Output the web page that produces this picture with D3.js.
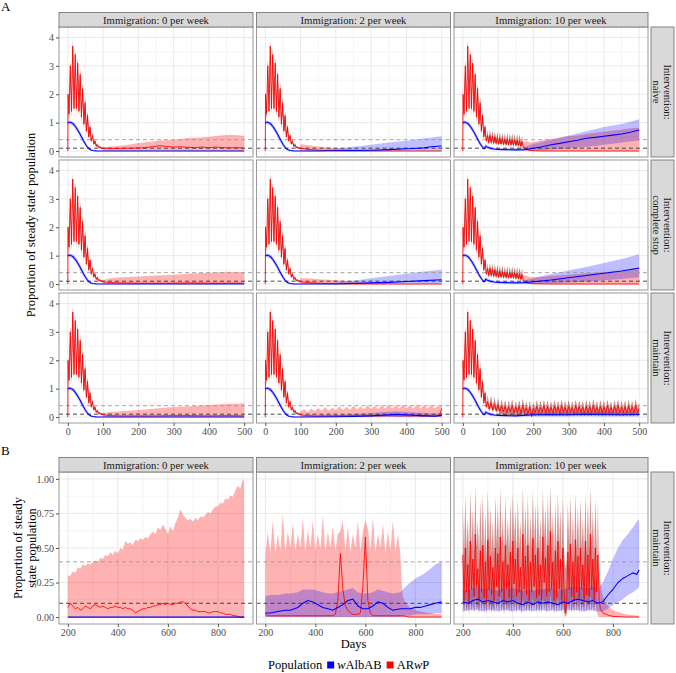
<!DOCTYPE html>
<html>
<head>
<meta charset="utf-8">
<script src="https://cdn.jsdelivr.net/npm/d3@7"></script>
<style>
  body { margin: 0; background: #fff; }
  svg text { font-family: "Liberation Serif", "Times New Roman", "DejaVu Serif", serif !important; }
  .tick text { fill: #4d4d4d; font-size: 10px; }
</style>
</head>
<body>
<svg id="chart" width="676" height="673" font-family="Liberation Serif, Times New Roman, serif"></svg>
<script>
// ---- labels / ticks ----
const IMMIGRATION = ["Immigration: 0 per week", "Immigration: 2 per week", "Immigration: 10 per week"];
const INTERVENTION = [["Intervention:", "naive"], ["Intervention:", "complete stop"], ["Intervention:", "maintain"]];
const THRESHOLDS = [{ v: 0.1, color: "#333" }, { v: 0.4, color: "#999" }];
const A_X_TICKS = [0, 100, 200, 300, 400, 500];
const A_Y_TICKS = [0, 1, 2, 3, 4];
const B_X_TICKS = [200, 400, 600, 800];
const B_Y_TICKS = [0, 0.25, 0.5, 0.75, 1];

// ---- panel A series: rows of [day, lower, median, upper] ----
const A_BLUE_EARLY = [[0,0.93,1.0,1.05],[5,0.95,1.02,1.08],[10,0.93,1.0,1.06],[15,0.88,0.96,1.03],[20,0.8,0.89,0.97],
  [25,0.7,0.8,0.88],[30,0.6,0.7,0.79],[35,0.48,0.59,0.68],[40,0.37,0.47,0.56],[45,0.26,0.35,0.44],
  [50,0.17,0.24,0.32],[55,0.1,0.15,0.22],[60,0.05,0.08,0.14]];
const A_BLUE_TAIL = [[65,0.02,0.04,0.08],[70,0.01,0.02,0.05],[80,0,0.005,0.02],[90,0,0,0.01],[100,0,0,0]];
const A_BLUE_C1 = [[150,0,0,0],[500,0,0,0]];
const A_BLUE_C2_NAIVE = [[150,0,0,0.02],[200,0,0.01,0.08],[250,0,0.02,0.15],[300,0,0.03,0.22],[350,0,0.05,0.3],
  [400,0,0.08,0.36],[420,0,0.09,0.4],[450,0,0.11,0.45],[470,0,0.15,0.47],[490,0,0.17,0.5],[500,0,0.18,0.52]];
const A_BLUE_C2_STOP = [[200,0,0,0.05],[250,0,0.02,0.12],[300,0,0.04,0.2],[350,0,0.06,0.28],[400,0,0.09,0.36],
  [450,0,0.12,0.44],[500,0,0.15,0.5]];
const A_BLUE_C2_MAINT = [[200,0,0.01,0.06],[250,0,0.02,0.1],[300,0,0.04,0.14],[340,0,0.07,0.18],[370,0,0.1,0.2],
  [400,0,0.08,0.18],[440,0,0.05,0.15],[480,0,0.03,0.12],[500,0,0.06,0.15]];
const A_BLUE_C3_TAIL = [[65,0.1,0.17,0.25],[70,0.07,0.13,0.2],[80,0.04,0.09,0.15],[90,0.03,0.07,0.12],
  [100,0.03,0.06,0.11],[120,0.02,0.05,0.1],[150,0.01,0.04,0.1]];
const A_BLUE_C3_NAIVE = [[175,0.01,0.05,0.15],[200,0.02,0.1,0.25],[225,0.03,0.15,0.33],[250,0.05,0.22,0.4],
  [275,0.07,0.27,0.48],[300,0.1,0.33,0.55],[325,0.12,0.38,0.62],[350,0.15,0.45,0.7],[375,0.18,0.48,0.77],
  [400,0.22,0.52,0.85],[425,0.26,0.56,0.9],[450,0.3,0.6,0.95],[475,0.34,0.66,1.03],[500,0.38,0.74,1.12]];
const A_BLUE_C3_STOP = [[175,0.01,0.05,0.13],[200,0.01,0.08,0.2],[250,0.02,0.14,0.35],[300,0.05,0.22,0.48],
  [350,0.08,0.3,0.6],[400,0.13,0.38,0.74],[450,0.18,0.46,0.88],[500,0.24,0.56,1.05]];
const A_BLUE_C3_MAINT = [[200,0.02,0.08,0.15],[250,0.02,0.09,0.16],[300,0.02,0.08,0.16],[350,0.03,0.1,0.17],
  [400,0.02,0.09,0.18],[450,0.02,0.08,0.16],[500,0.02,0.09,0.16]];

const A_RED_EARLY = [[0,0,0,0],[0.6,1.8,2.0,2.1],[3.5,1.1,1.3,1.5],[7,2.7,3.0,3.2],[10.5,1.2,1.4,1.7],[14,3.3,3.7,3.9],
  [17.5,1.3,1.5,1.8],[21,3.1,3.4,3.6],[24.5,1.3,1.5,1.8],[28,2.8,3.1,3.3],[31.5,1.2,1.4,1.7],[35,2.4,2.7,2.9],
  [38.5,1.0,1.2,1.4],[42,1.9,2.2,2.4],[45.5,0.8,0.95,1.1],[49,1.45,1.7,1.9],[52.5,0.6,0.7,0.85],[56,1.05,1.25,1.4],
  [59.5,0.42,0.5,0.6],[63,0.7,0.85,0.95],[66.5,0.28,0.35,0.42]];
const A_RED_TAIL = [[70,0.45,0.55,0.65],[73.5,0.2,0.25,0.32],[77,0.28,0.35,0.42],[80.5,0.13,0.17,0.22],
  [84,0.17,0.22,0.28],[87.5,0.1,0.12,0.16],[91,0.1,0.14,0.18],[94.5,0.08,0.1,0.13],[98,0.06,0.1,0.12]];
const A_RED_C1_NAIVE = [[100,0,0.1,0.13],[120,0,0.09,0.16],[140,0,0.09,0.18],[160,0,0.1,0.2],[180,0,0.1,0.24],
  [200,0,0.11,0.28],[220,0,0.12,0.31],[240,0,0.15,0.34],[260,0,0.19,0.37],[280,0,0.16,0.38],[300,0,0.14,0.4],
  [320,0,0.15,0.42],[340,0,0.13,0.46],[360,0,0.12,0.47],[380,0,0.14,0.48],[400,0,0.12,0.5],[420,0,0.14,0.53],
  [440,0,0.12,0.56],[460,0,0.11,0.57],[480,0,0.12,0.56],[500,0,0.1,0.54]];
const A_RED_C1_STOP = [[100,0,0.08,0.14],[120,0,0.05,0.2],[150,0,0.04,0.24],[200,0,0.03,0.27],[250,0,0.03,0.3],
  [300,0,0.03,0.33],[350,0,0.04,0.37],[400,0,0.03,0.4],[450,0,0.03,0.43],[500,0,0.03,0.42]];
const A_RED_C1_MAINT = [[100,0,0.08,0.14],[120,0,0.05,0.18],[150,0,0.04,0.2],[200,0,0.04,0.25],[250,0,0.04,0.3],
  [300,0,0.05,0.35],[350,0,0.05,0.38],[400,0,0.04,0.42],[450,0,0.05,0.46],[500,0,0.04,0.48]];
const A_RED_C2_NAIVE = [[100,0,0.1,0.25],[110,0,0.08,0.22],[125,0,0.05,0.2],[150,0,0.03,0.16],[175,0,0.02,0.13],
  [200,0,0.01,0.11],[250,0,0,0.06],[300,0,0,0.03],[350,0,0,0.01],[400,0,0,0],[500,0,0,0]];
const A_RED_C2_STOP = [[100,0,0.08,0.2],[125,0,0.05,0.2],[150,0,0.03,0.17],[200,0,0.01,0.14],[250,0,0,0.09],
  [300,0,0,0.04],[350,0,0,0.01],[400,0,0,0],[500,0,0,0]];
const A_RED_C2_MAINT = [[100,0,0.08,0.2],[110,0,0.06,0.28],[120,0,0.05,0.18],[130,0,0.05,0.3],[140,0,0.04,0.2],
  [150,0,0.04,0.32],[160,0,0.05,0.22],[170,0,0.04,0.35],[180,0,0.05,0.22],[190,0,0.04,0.34],[200,0,0.05,0.24],
  [210,0,0.04,0.38],[220,0,0.05,0.25],[230,0,0.04,0.36],[240,0,0.05,0.26],[250,0,0.05,0.4],[260,0,0.05,0.27],
  [270,0,0.04,0.38],[280,0,0.05,0.28],[290,0,0.05,0.42],[300,0,0.05,0.28],[310,0,0.05,0.4],[320,0,0.04,0.28],
  [330,0,0.05,0.42],[340,0,0.05,0.3],[350,0,0.06,0.44],[360,0,0.05,0.3],[370,0,0.05,0.42],[380,0,0.04,0.3],
  [390,0,0.05,0.44],[400,0,0.05,0.3],[410,0,0.04,0.42],[420,0,0.05,0.3],[430,0,0.05,0.45],[440,0,0.04,0.3],
  [450,0,0.04,0.43],[460,0,0.05,0.3],[470,0,0.04,0.44],[480,0,0.04,0.3],[490,0,0.05,0.42],[495,0,0.08,0.35],
  [500,0,0.3,0.45]];
const A_RED_C3_OSC = [[70,0.4,0.55,0.75],[73.5,0.22,0.3,0.4],[77,0.4,0.55,0.75],[80.5,0.22,0.3,0.4],
  [84,0.38,0.52,0.72],[87.5,0.2,0.28,0.38],[91,0.36,0.5,0.7],[94.5,0.2,0.27,0.36],[98,0.34,0.48,0.68],
  [101.5,0.18,0.25,0.34],[105,0.32,0.45,0.66],[108.5,0.18,0.25,0.33],[112,0.32,0.44,0.65],[115.5,0.17,0.24,0.32],
  [119,0.3,0.42,0.62],[122.5,0.17,0.23,0.31],[126,0.3,0.42,0.64],[129.5,0.16,0.22,0.3],[133,0.3,0.41,0.62],
  [136.5,0.16,0.22,0.3],[140,0.28,0.4,0.63],[143.5,0.16,0.21,0.3],[147,0.28,0.4,0.6],[150.5,0.15,0.2,0.29],
  [154,0.26,0.38,0.6],[157.5,0.14,0.19,0.28],[161,0.24,0.36,0.58],[164.5,0.12,0.17,0.27],[168,0.2,0.33,0.55]];
const A_RED_C3_NAIVE = [[172,0.06,0.12,0.3],[180,0.02,0.06,0.35],[190,0,0.02,0.3],[200,0,0.01,0.32],[225,0,0,0.38],
  [250,0,0,0.42],[275,0,0,0.46],[300,0,0,0.52],[325,0,0,0.55],[350,0,0,0.6],[375,0,0,0.64],[400,0,0,0.68],
  [425,0,0,0.72],[450,0,0,0.75],[475,0,0,0.8],[500,0,0,0.82]];
const A_RED_C3_STOP = [[172,0.04,0.1,0.3],[180,0.01,0.05,0.3],[190,0,0.02,0.25],[200,0,0.01,0.24],[250,0,0,0.28],
  [300,0,0,0.33],[350,0,0,0.38],[400,0,0,0.42],[450,0,0,0.46],[500,0,0,0.5]];
// maintain, 10 per week: sampled every 5 days from day 70
const A_C3M_MID = [0.55,0.28,0.5,0.25,0.45,0.22,0.42,
  0.2,0.4,0.18,0.38,0.15,0.36,0.17,0.4,0.14,0.35, 0.16,0.38,0.12,0.42,0.15,0.33,0.13,0.36,0.02,0.3,
  0.15,0.38,0.13,0.35,0.16,0.4,0.12,0.37,0.15,0.34, 0.13,0.39,0.16,0.36,0.12,0.41,0.15,0.35,0.13,0.38,
  0.16,0.34,0.12,0.4,0.14,0.37,0.15,0.35,0.12,0.39, 0.15,0.36,0.13,0.42,0.16,0.35,0.12,0.38,0.14,0.36,
  0.13,0.4,0.15,0.34,0.12,0.38,0.16,0.41,0.13,0.35, 0.15,0.37,0.12,0.4,0.14,0.36,0.13,0.42,0.15,0.3];
const A_C3M_HI = [0.8,0.4,0.75,0.38,0.7,0.35,0.66,
  0.32,0.62,0.3,0.6,0.28,0.58,0.3,0.63,0.27,0.56, 0.3,0.6,0.26,0.65,0.28,0.55,0.26,0.58,0.2,0.52,
  0.3,0.6,0.27,0.57,0.3,0.62,0.26,0.59,0.29,0.56, 0.27,0.61,0.3,0.58,0.26,0.63,0.29,0.57,0.27,0.6,
  0.3,0.56,0.26,0.62,0.28,0.59,0.29,0.57,0.26,0.61, 0.29,0.58,0.27,0.64,0.3,0.57,0.26,0.6,0.28,0.58,
  0.27,0.62,0.29,0.56,0.26,0.6,0.3,0.63,0.27,0.57, 0.29,0.59,0.26,0.62,0.28,0.58,0.27,0.64,0.29,0.5];
const A_C3M_LO = [0.38,0.2,0.34,0.18,0.3,0.15,0.26,
  0.05,0.12,0.04,0.11,0.03,0.1,0.04,0.12,0.03,0.1, 0.04,0.11,0.03,0.13,0.03,0.09,0.03,0.1,0,0.08,
  0.03,0.11,0.03,0.1,0.04,0.12,0.03,0.11,0.03,0.1, 0.03,0.12,0.04,0.1,0.03,0.12,0.03,0.1,0.03,0.11,
  0.04,0.1,0.03,0.12,0.03,0.11,0.03,0.1,0.03,0.12, 0.03,0.1,0.03,0.13,0.04,0.1,0.03,0.11,0.03,0.1,
  0.03,0.12,0.03,0.1,0.03,0.11,0.04,0.12,0.03,0.1, 0.03,0.11,0.03,0.12,0.03,0.1,0.03,0.13,0.03,0.08];

// ---- panel B series (maintain) ----
const B1_BLUE = [[200,0,0,0],[905,0,0,0]];
const B1_RED = [[200,0,0.07,0.3],[210,0,0.1,0.3],[220,0,0.08,0.33],[230,0,0.06,0.32],[240,0,0.07,0.36],[250,0,0.05,0.35],
  [260,0,0.06,0.38],[270,0,0.08,0.37],[280,0,0.07,0.39],[290,0,0.06,0.38],[300,0,0.08,0.4],[310,0,0.09,0.41],
  [320,0,0.08,0.4],[330,0,0.07,0.43],[340,0,0.08,0.42],[350,0,0.07,0.45],[360,0,0.06,0.44],[370,0,0.07,0.47],
  [380,0,0.07,0.45],[390,0,0.08,0.48],[400,0,0.07,0.46],[410,0,0.07,0.5],[420,0,0.06,0.49],[430,0,0.07,0.55],
  [440,0,0.06,0.53],[450,0,0.06,0.54],[460,0,0.05,0.52],[470,0,0.03,0.56],[480,0,0.04,0.55],[490,0,0.05,0.57],
  [500,0,0.06,0.56],[510,0,0.06,0.58],[520,0,0.07,0.57],[530,0,0.07,0.6],[540,0,0.08,0.62],[550,0,0.08,0.6],
  [560,0,0.09,0.65],[570,0,0.09,0.63],[580,0,0.1,0.67],[590,0,0.09,0.64],[600,0,0.1,0.6],[610,0,0.09,0.66],
  [620,0,0.09,0.62],[630,0,0.1,0.68],[640,0,0.1,0.72],[650,0,0.11,0.78],[660,0,0.11,0.74],[670,0,0.1,0.72],
  [680,0,0.08,0.7],[690,0,0.06,0.71],[700,0,0.05,0.69],[710,0,0.05,0.72],[720,0,0.04,0.7],[730,0,0.04,0.73],
  [740,0,0.04,0.72],[750,0,0.04,0.74],[760,0,0.03,0.76],[770,0,0.03,0.75],[780,0,0.04,0.78],[790,0,0.04,0.8],
  [800,0,0.04,0.8],[810,0,0.03,0.83],[820,0,0.03,0.82],[830,0,0.02,0.86],[840,0,0.02,0.85],[850,0,0.02,0.88],
  [860,0,0.01,0.87],[870,0,0.01,0.92],[880,0,0.005,0.95],[890,0,0,0.93],[900,0,0,1.0],[905,0,0,0.98]];

const B2_BLUE = [[200,0,0.03,0.15],[220,0,0.03,0.16],[250,0,0.04,0.16],[280,0,0.05,0.17],[300,0,0.05,0.17],
  [330,0,0.07,0.18],[350,0,0.1,0.2],[370,0,0.12,0.2],[390,0,0.11,0.2],[410,0,0.09,0.19],[430,0,0.07,0.18],
  [450,0,0.06,0.17],[470,0,0.05,0.17],[490,0,0.07,0.18],[510,0,0.09,0.19],[530,0,0.12,0.2],[550,0,0.13,0.21],
  [570,0,0.08,0.18],[590,0,0.06,0.17],[610,0,0.06,0.17],[630,0,0.08,0.18],[650,0,0.11,0.2],[670,0,0.1,0.19],
  [690,0,0.07,0.18],[710,0,0.05,0.17],[740,0,0.06,0.18],[760,0.01,0.06,0.22],[780,0.01,0.06,0.25],
  [800,0.02,0.07,0.28],[820,0.02,0.07,0.3],[840,0.02,0.08,0.32],[860,0.02,0.09,0.35],[880,0.03,0.1,0.38],
  [905,0.03,0.11,0.4]];
// sampled every 10 days from day 200 to 740
const B2_RED_MID = [0.02,0.01,0.01,0.01,0.01,0.01,0.01,0.01,0.01,0.01,0.01,0.01,0.01,0.01,0.01,0.01,0.01,0.01,
  0.01,0.01,0.01,0.01,0.01,0.01,0.01,0.01,0.01,0.01,0.02,0.12,0.46,0.2,0.08,0.05,0.03,0.02,0.02,0.02,0.03,
  0.22,0.58,0.12,0.03,0.01,0.01,0.01,0.01,0.01,0.01,0.01,0.01,0.01,0.01,0.01,0.01];
const B2_RED_HI = [0.45,0.62,0.47,0.7,0.46,0.6,0.48,0.75,0.47,0.62,0.5,0.68,0.48,0.6,0.5,0.72,0.47,0.63,0.5,0.7,
  0.48,0.6,0.49,0.74,0.47,0.62,0.5,0.66,0.48,0.6,0.62,0.7,0.48,0.65,0.47,0.6,0.5,0.7,0.48,0.62,0.7,0.64,0.48,
  0.72,0.47,0.6,0.5,0.68,0.46,0.62,0.48,0.7,0.47,0.6,0.45];
const B2_RED_TAIL = [[745,0,0.01,0.25],[750,0,0.01,0.15],[760,0,0.005,0.1],[780,0,0,0.07],[800,0,0,0.05],
  [850,0,0,0.03],[905,0,0,0.02]];

const B3_BLUE = [[200,0.04,0.11,0.2],[220,0.05,0.1,0.19],[240,0.05,0.12,0.21],[260,0.05,0.13,0.22],[280,0.04,0.11,0.2],
  [300,0.05,0.12,0.21],[320,0.05,0.11,0.2],[340,0.04,0.1,0.19],[360,0.05,0.12,0.21],[380,0.05,0.11,0.2],
  [400,0.04,0.12,0.21],[420,0.05,0.1,0.2],[440,0.04,0.09,0.19],[460,0.05,0.11,0.2],[480,0.04,0.09,0.19],
  [500,0.05,0.11,0.2],[520,0.05,0.1,0.2],[540,0.04,0.11,0.21],[560,0.05,0.1,0.2],[580,0.04,0.09,0.19],
  [600,0.05,0.11,0.2],[620,0.05,0.1,0.21],[640,0.05,0.12,0.22],[660,0.05,0.13,0.22],[680,0.04,0.12,0.21],
  [700,0.05,0.11,0.21],[720,0.05,0.12,0.22],[740,0.04,0.1,0.21],[760,0.04,0.11,0.25],[780,0.06,0.16,0.33],
  [800,0.09,0.2,0.42],[820,0.11,0.25,0.5],[840,0.13,0.28,0.56],[860,0.16,0.3,0.6],[880,0.18,0.32,0.65],
  [895,0.2,0.31,0.69],[905,0.22,0.34,0.71]];
// sampled every 5 days from day 200 to 735
const B3_RED_MID = [0.45,0.12,0.5,0.18,0.38,0.1,0.55,0.2,0.42,0.15, 0.6,0.22,0.35,0.12,0.48,0.18,0.52,0.14,0.4,0.1,
  0.56,0.2,0.44,0.16,0.36,0.12,0.5,0.22,0.46,0.15, 0.58,0.18,0.4,0.11,0.52,0.2,0.38,0.14,0.47,0.12,
  0.55,0.24,0.42,0.15,0.5,0.18,0.36,0.1,0.6,0.2, 0.44,0.16,0.52,0.12,0.4,0.18,0.57,0.22,0.45,0.14,
  0.5,0.16,0.38,0.12,0.58,0.25,0.43,0.15,0.52,0.18, 0.62,0.2,0.4,0.12,0.48,0.14,0.55,0.2,0.42,0.12,
  0.5,0.16,0.03,0.1,0.47,0.2,0.53,0.15,0.4,0.12, 0.56,0.18,0.44,0.14,0.5,0.2,0.38,0.12,0.55,0.16,
  0.45,0.15,0.6,0.2,0.42,0.12,0.5,0.18];
const B3_RED_HI = [0.82,0.42,0.88,0.48,0.72,0.4,0.92,0.5,0.78,0.45, 0.95,0.5,0.7,0.42,0.85,0.48,0.9,0.44,0.75,0.4,
  0.92,0.5,0.8,0.46,0.7,0.42,0.88,0.52,0.82,0.45, 0.94,0.48,0.75,0.41,0.88,0.5,0.72,0.44,0.84,0.42,
  0.9,0.54,0.78,0.45,0.86,0.48,0.7,0.4,0.95,0.5, 0.8,0.46,0.88,0.42,0.75,0.48,0.92,0.52,0.82,0.44,
  0.86,0.46,0.72,0.42,0.93,0.55,0.8,0.45,0.88,0.48, 0.96,0.5,0.75,0.42,0.84,0.44,0.9,0.5,0.78,0.42,
  0.86,0.46,0.35,0.4,0.83,0.5,0.88,0.45,0.75,0.42, 0.9,0.48,0.8,0.44,0.86,0.5,0.72,0.42,0.9,0.46,
  0.82,0.45,0.94,0.5,0.78,0.42,0.86,0.48];
const B3_RED_LO = [0.12,0.03,0.13,0.04,0.1,0.02,0.14,0.04,0.11,0.03, 0.15,0.05,0.09,0.03,0.12,0.04,0.13,0.03,0.1,0.02,
  0.14,0.04,0.11,0.03,0.09,0.03,0.13,0.05,0.12,0.03, 0.15,0.04,0.1,0.02,0.13,0.04,0.1,0.03,0.12,0.03,
  0.14,0.05,0.11,0.03,0.13,0.04,0.09,0.02,0.15,0.04, 0.11,0.03,0.13,0.03,0.1,0.04,0.14,0.05,0.12,0.03,
  0.13,0.03,0.1,0.03,0.15,0.05,0.11,0.03,0.13,0.04, 0.16,0.04,0.1,0.02,0.12,0.03,0.14,0.04,0.11,0.03,
  0.13,0.03,0,0.02,0.12,0.04,0.13,0.03,0.1,0.03, 0.14,0.04,0.11,0.03,0.13,0.04,0.1,0.03,0.14,0.03,
  0.12,0.03,0.15,0.04,0.11,0.03,0.13,0.04];
const B3_RED_TAIL = [[740,0.01,0.45,0.85],[745,0,0.12,0.4],[750,0,0.06,0.25],[760,0,0.03,0.15],[780,0,0.015,0.08],
  [800,0,0.005,0.05],[850,0,0,0.02],[905,0,0,0.01]];

// pair value arrays sampled on a regular day grid with their days
function onGrid(start, step, lo, mid, hi) {
  return mid.map((m, i) => [start + i * step, Array.isArray(lo) ? lo[i] : lo, m, hi[i]]);
}

// ---- layout ----
const svg = d3.select("#chart");
const colX = [59, 256.5, 454], panelW = 194;
const rowYA = [27, 160, 293], panelHA = 130;
const topB = 472, panelHB = 152;
const stripX0 = 651, stripW = 23;

const xA = d3.scaleLinear().domain([-25, 525]).range([0, panelW]);
const yA = d3.scaleLinear().domain([-0.21, 4.37]).range([panelHA, 0]);
const xB = d3.scaleLinear().domain([164.75, 940.25]).range([0, panelW]);
const yB = d3.scaleLinear().domain([-0.05, 1.05]).range([panelHB, 0]);

const mids = t => d3.pairs(t).map(([a, b]) => (a + b) / 2);
const gridA = { xMaj: A_X_TICKS, xMin: mids(A_X_TICKS), yMaj: A_Y_TICKS, yMin: mids(A_Y_TICKS) };
const gridB = { xMaj: B_X_TICKS, xMin: mids(B_X_TICKS).concat([900]), yMaj: B_Y_TICKS, yMin: mids(B_Y_TICKS) };

let clipN = 0;
function drawPanel(px, py, x, y, grid, blueChunks, redChunks) {
  const w = x.range()[1], h = y.range()[0];
  const g = svg.append("g").attr("transform", `translate(${px},${py})`);
  const id = "clip" + (clipN++);
  g.append("clipPath").attr("id", id).append("rect").attr("width", w).attr("height", h);

  grid.xMin.forEach(v => g.append("line").attr("x1", x(v)).attr("x2", x(v)).attr("y1", 0).attr("y2", h)
    .attr("stroke", "#ebebeb").attr("stroke-width", 0.5));
  grid.yMin.forEach(v => g.append("line").attr("y1", y(v)).attr("y2", y(v)).attr("x1", 0).attr("x2", w)
    .attr("stroke", "#ebebeb").attr("stroke-width", 0.5));
  grid.xMaj.forEach(v => g.append("line").attr("x1", x(v)).attr("x2", x(v)).attr("y1", 0).attr("y2", h)
    .attr("stroke", "#e6e6e6").attr("stroke-width", 0.9));
  grid.yMaj.forEach(v => g.append("line").attr("y1", y(v)).attr("y2", y(v)).attr("x1", 0).attr("x2", w)
    .attr("stroke", "#e6e6e6").attr("stroke-width", 0.9));

  const body = g.append("g").attr("clip-path", `url(#${id})`);
  const blue = blueChunks.flat();
  const red = redChunks.flatMap(c => c.rows);
  const area = d3.area().x(d => x(d[0])).y0(d => y(d[1])).y1(d => y(d[3]));
  const line = d3.line().x(d => x(d[0])).y(d => y(d[2]));

  body.append("path").attr("d", area(red)).attr("fill", "#ff0000").attr("fill-opacity", 0.3);
  body.append("path").attr("d", area(blue)).attr("fill", "#0000ff").attr("fill-opacity", 0.25);
  redChunks.filter(c => c.dark).forEach(c =>
    body.append("path").attr("d", area(c.rows)).attr("fill", "#2a0303").attr("fill-opacity", c.dark));

  THRESHOLDS.forEach(t => body.append("line").attr("x1", 0).attr("x2", w).attr("y1", y(t.v)).attr("y2", y(t.v))
    .attr("stroke", t.color).attr("stroke-width", 0.9).attr("stroke-dasharray", "4,3"));

  body.append("path").attr("d", line(red)).attr("fill", "none").attr("stroke", "#ff0000").attr("stroke-width", 0.85);
  body.append("path").attr("d", line(blue)).attr("fill", "none").attr("stroke", "#0000ff").attr("stroke-width", 1.1);

  g.append("rect").attr("width", w).attr("height", h).attr("fill", "none").attr("stroke", "#999").attr("stroke-width", 1);
  return g;
}

function styleAxis(sel) {
  sel.attr("font-family", null).attr("font-size", null);
  sel.select(".domain").remove();
  sel.selectAll(".tick line").attr("stroke", "#555");
}

function topStrip(px, y0, label) {
  svg.append("rect").attr("x", px).attr("y", y0).attr("width", panelW).attr("height", 14.5)
    .attr("fill", "#d9d9d9").attr("stroke", "#7a7a7a").attr("stroke-width", 0.9);
  svg.append("text").attr("x", px + panelW / 2).attr("y", y0 + 7.5).attr("text-anchor", "middle")
    .attr("dominant-baseline", "central").attr("font-size", 10.7).attr("fill", "#1a1a1a").text(label);
}

function sideStrip(y0, h, lines) {
  svg.append("rect").attr("x", stripX0).attr("y", y0).attr("width", stripW).attr("height", h)
    .attr("fill", "#d9d9d9").attr("stroke", "#7a7a7a").attr("stroke-width", 0.9);
  const t = svg.append("g").attr("transform", `translate(${stripX0 + stripW / 2},${y0 + h / 2}) rotate(90)`);
  lines.forEach((s, i) => t.append("text").attr("x", 0).attr("y", (i - (lines.length - 1) / 2) * 11)
    .attr("text-anchor", "middle").attr("dominant-baseline", "central").attr("font-size", 10.7)
    .attr("fill", "#1a1a1a").text(s));
}

// ---- panel A ----
const red3Osc = { rows: A_RED_C3_OSC, dark: 0.35 };
const earlyRed = { rows: A_RED_EARLY, dark: 0.5 };
const A_PANELS = [
  [[A_BLUE_EARLY, A_BLUE_TAIL, A_BLUE_C1], [earlyRed, { rows: A_RED_TAIL, dark: 0.3 }, { rows: A_RED_C1_NAIVE }]],
  [[A_BLUE_EARLY, A_BLUE_TAIL, A_BLUE_C2_NAIVE], [earlyRed, { rows: A_RED_TAIL, dark: 0.3 }, { rows: A_RED_C2_NAIVE }]],
  [[A_BLUE_EARLY, A_BLUE_C3_TAIL, A_BLUE_C3_NAIVE], [earlyRed, red3Osc, { rows: A_RED_C3_NAIVE }]],
  [[A_BLUE_EARLY, A_BLUE_TAIL, A_BLUE_C1], [earlyRed, { rows: A_RED_TAIL, dark: 0.3 }, { rows: A_RED_C1_STOP }]],
  [[A_BLUE_EARLY, A_BLUE_TAIL, A_BLUE_C2_STOP], [earlyRed, { rows: A_RED_TAIL, dark: 0.3 }, { rows: A_RED_C2_STOP }]],
  [[A_BLUE_EARLY, A_BLUE_C3_TAIL, A_BLUE_C3_STOP], [earlyRed, red3Osc, { rows: A_RED_C3_STOP }]],
  [[A_BLUE_EARLY, A_BLUE_TAIL, A_BLUE_C1], [earlyRed, { rows: A_RED_TAIL, dark: 0.3 }, { rows: A_RED_C1_MAINT }]],
  [[A_BLUE_EARLY, A_BLUE_TAIL, A_BLUE_C2_MAINT], [earlyRed, { rows: A_RED_TAIL, dark: 0.3 }, { rows: A_RED_C2_MAINT }]],
  [[A_BLUE_EARLY, A_BLUE_C3_TAIL, A_BLUE_C3_MAINT], [earlyRed, { rows: onGrid(70, 5, A_C3M_LO, A_C3M_MID, A_C3M_HI), dark: 0.25 }]]
];

A_PANELS.forEach(([blue, red], i) => {
  const r = Math.floor(i / 3), c = i % 3;
  const g = drawPanel(colX[c], rowYA[r], xA, yA, gridA, blue, red);
  if (c === 0) g.append("g").call(d3.axisLeft(yA).tickValues(A_Y_TICKS).tickFormat(d3.format("d"))
    .tickSize(3).tickPadding(2)).call(styleAxis);
  if (r === 2) g.append("g").attr("transform", `translate(0,${panelHA})`)
    .call(d3.axisBottom(xA).tickValues(A_X_TICKS).tickFormat(d3.format("d")).tickSize(3).tickPadding(1.5)).call(styleAxis);
});
IMMIGRATION.forEach((s, c) => topStrip(colX[c], 12.5, s));
INTERVENTION.forEach((l, r) => sideStrip(rowYA[r], panelHA, l));

// ---- panel B ----
const B_PANELS = [
  [[B1_BLUE], [{ rows: B1_RED }]],
  [[B2_BLUE], [{ rows: onGrid(200, 10, 0, B2_RED_MID, B2_RED_HI) }, { rows: B2_RED_TAIL }]],
  [[B3_BLUE], [{ rows: onGrid(200, 5, B3_RED_LO, B3_RED_MID, B3_RED_HI), dark: 0.2 }, { rows: B3_RED_TAIL }]]
];
B_PANELS.forEach(([blue, red], c) => {
  const g = drawPanel(colX[c], topB, xB, yB, gridB, blue, red);
  if (c === 0) g.append("g").call(d3.axisLeft(yB).tickValues(B_Y_TICKS).tickFormat(d3.format(".2f"))
    .tickSize(3).tickPadding(2)).call(styleAxis);
  g.append("g").attr("transform", `translate(0,${panelHB})`)
    .call(d3.axisBottom(xB).tickValues(B_X_TICKS).tickFormat(d3.format("d")).tickSize(3).tickPadding(1.5)).call(styleAxis);
});
IMMIGRATION.forEach((s, c) => topStrip(colX[c], 457.5, s));
sideStrip(topB, panelHB, INTERVENTION[2]);

// ---- titles ----
svg.append("text").attr("x", 1).attr("y", 11).attr("font-size", 13).text("A");
svg.append("text").attr("x", 1).attr("y", 455).attr("font-size", 13).text("B");
svg.append("text").attr("transform", "translate(31,225) rotate(-90)").attr("text-anchor", "middle")
  .attr("dominant-baseline", "central").attr("font-size", 12.5).text("Proportion of steady state population");
["Proportion of steady", "state population"].forEach((s, i) =>
  svg.append("text").attr("transform", `translate(${18 + i * 14},548) rotate(-90)`).attr("text-anchor", "middle")
    .attr("dominant-baseline", "central").attr("font-size", 12.5).text(s));
svg.append("text").attr("x", colX[1] + panelW / 2).attr("y", 644).attr("text-anchor", "middle")
  .attr("dominant-baseline", "central").attr("font-size", 12.5).text("Days");

// ---- legend ----
const leg = svg.append("g").attr("transform", "translate(268,665)").attr("font-size", 12.5);
let lx = 0;
const t0 = leg.append("text").attr("x", lx).attr("dominant-baseline", "central").text("Population");
lx += t0.node().getComputedTextLength() + 5;
[{ color: "#0000ff", parts: [["w", true], ["AlbAB", false]] }, { color: "#ff0000", parts: [["AR", false], ["w", true], ["P", false]] }]
  .forEach(k => {
    leg.append("rect").attr("x", lx).attr("y", -3.5).attr("width", 7).attr("height", 7).attr("fill", k.color);
    lx += 10;
    const t = leg.append("text").attr("x", lx).attr("dominant-baseline", "central");
    k.parts.forEach(([s, it]) => t.append("tspan").attr("font-style", it ? "italic" : null).text(s));
    lx += t.node().getComputedTextLength() + 5;
  });
</script>
</body>
</html>
